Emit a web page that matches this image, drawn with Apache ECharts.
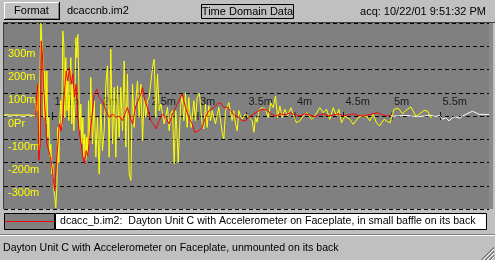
<!DOCTYPE html>
<html>
<head>
<meta charset="utf-8">
<script src="https://cdn.jsdelivr.net/npm/echarts@6/dist/echarts.min.js"></script>
<style>
html,body{margin:0;padding:0;background:#c0c0c0;}
#c{width:495px;height:260px;}
</style>
</head>
<body>
<div id="c"></div>
<script>
// ---- data (time in ms, amplitude in milli-units) ----
const yellowT = [1.000,1.015,1.030,1.045,1.060,1.075,1.090,1.105,1.120,1.135,1.150,1.165,1.180,1.195,1.210,1.225,1.240,1.255,1.270,1.285,1.300,1.315,1.325,
1.332,1.342,1.352,1.363,1.369,1.380,1.390,1.400,1.411,1.421,1.431,1.442,1.452,1.462,1.472,1.483,1.493,1.503,1.514,1.524,1.534,1.545,1.555,1.565,1.576,1.586,1.596,
1.606,1.617,1.627,1.637,1.648,1.658,1.668,1.679,1.689,1.699,1.710,1.720,1.730,1.741,1.751,1.761,1.771,1.782,1.792,1.802,1.813,1.823,1.833,1.844,1.854,1.864,
1.871,1.881,1.895,1.912,1.930,1.947,1.964,1.981,1.998,2.015,2.033,2.050,2.067,2.084,2.101,2.119,2.136,2.153,2.170,2.187,2.204,2.222,2.239,2.256,2.273,2.290,2.308,
2.325,2.342,2.359,2.376,2.393,2.411,2.428,2.445,2.462,2.479,2.497,2.531,2.548,2.565,2.582,2.600,2.617,2.651,2.686,2.703,2.720,2.737,2.754,2.771,
2.778,2.796,2.820,2.837,2.854,2.871,2.888,2.905,2.929,2.957,2.974,2.991,3.015,3.043,3.060,3.077,3.094,3.112,3.129,3.146,3.180,3.215,3.249,3.266,3.284,3.318,3.335,
3.352,3.369,3.387,3.404,3.421,3.438,3.455,3.490,3.524,3.558,3.576,3.593,3.610,3.627,3.661,
3.672,3.696,3.723,3.751,3.775,3.799,3.820,3.844,3.868,3.895,3.923,3.957,3.981,4.015,4.050,4.084,4.119,4.170,4.204,4.256,4.290,4.325,4.359,4.394,4.428,4.452,4.479,
4.514,4.565,4.600,4.651,4.686,4.737,4.771,4.806,4.840,4.871,4.885,4.919,4.954,4.981,5.005,5.022,5.050,5.074,5.108,5.142,5.194,5.246,5.280,5.332,5.366,5.400,5.418];
const yellowV = [4,0,6,2,5,-2,4,1,5,-1,4,2,5,0,4,-2,5,1,4,0,3,1,0,
66,23,137,-149,137,400,394,251,-6,194,-34,194,-91,-6,-177,-120,-249,-206,-320,-349,-395,-300,-49,-200,-6,66,-49,
366,309,-6,251,23,194,-20,94,251,-34,137,-63,37,337,251,351,137,-63,51,-120,-6,-177,-77,-191,-91,-163,
66,-120,166,-120,66,-177,-6,-249,51,-149,-63,137,216,-177,287,-120,123,-177,130,-91,123,-63,237,-134,180,-249,-277,
137,-49,66,151,-6,137,-106,80,-6,66,80,209,244,-6,180,23,51,-34,37,-63,9,23,-206,23,
-20,-199,44,87,-20,100,-49,80,-49,66,-20,80,97,-34,-56,51,-49,44,-20,23,-34,37,-70,-99,23,58,51,
-20,23,-34,-63,23,0,-13,9,-6,-20,-70,-6,-27,23,37,
43,29,-7,57,36,86,-7,43,-7,29,0,36,7,-29,-21,0,14,-14,0,36,14,29,-14,36,0,29,-29,
0,-14,-36,-7,0,0,-21,7,-29,-43,-36,-14,-24,-29,7,29,33,29,10,24,39,0,7,24,21,-7,0];

const redT = [1.325,1.339,1.349,1.359,1.373,1.383,1.394,1.407,1.428,1.441,1.462,1.486,1.503,1.521,1.538,1.555,1.572,1.590,1.606,1.624,1.641,1.658,1.675,1.692,1.709,
1.727,1.744,1.761,1.778,1.796,1.813,1.830,1.847,1.864,1.895,1.930,1.957,1.981,2.015,2.050,2.084,2.119,2.153,2.187,2.222,2.246,2.273,2.301,2.325,2.359,2.383,
2.411,2.428,2.452,2.479,2.514,2.541,2.565,2.600,2.634,2.668,2.703,2.737,2.771,2.785,2.820,2.837,2.871,2.905,2.940,2.967,3.008,3.043,3.077,3.112,3.163,3.198,
3.232,3.266,3.301,3.335,3.387,3.421,3.455,3.490,3.524,3.576,3.627,3.679,3.720,3.750,3.800,3.850,3.900,3.950,4.000,4.050,4.100,4.150,4.200,4.250,4.300,4.350,
4.400,4.450,4.500,4.550,4.600,4.650,4.700,4.750,4.800,4.850,4.900,4.950,4.985];
const redV = [0,94,137,-191,-120,323,280,137,-6,-120,-149,-191,-249,-320,-220,-120,-34,-63,-6,109,194,151,209,137,180,
80,137,-6,-77,-120,-177,-206,-149,-170,-49,94,115,80,66,23,-6,9,-6,0,-20,9,37,-6,-34,44,66,
94,123,66,37,-20,-34,-56,-20,9,-6,-34,9,37,37,80,94,37,-6,-34,-70,-63,-49,-6,23,37,51,
58,37,37,23,0,-6,-20,-20,-6,9,23,30,23,9,0,9,5,14,5,0,9,5,-3,5,9,0,
5,9,0,5,9,3,0,5,9,14,5,0,5];

const whitePreT = [1.000,1.020,1.040,1.060,1.080,1.100,1.120,1.140,1.160,1.180,1.200,1.220,1.240,1.260,1.280,1.300,1.325];
const whitePreV = [2,5,0,4,-1,3,2,5,0,3,-2,4,1,3,0,4,0];
const whitePostT = [4.988,5.057,5.125,5.194,5.263,5.332,5.400,5.452,5.486,5.521,5.555,5.589,5.624,5.658,5.692,5.727,5.761,5.795,5.830,5.864,5.899,5.950,5.985,6.000];
const whitePostV = [0,0,3,0,-3,0,3,-3,3,-14,-7,-21,-7,-3,-10,0,7,14,20,14,7,7,7,7];

const xTickValues = [1.5,2,2.5,3,3.5,4,4.5,5,5.5];
const xTickLabels = ['1.5m','2m','2.5m','3m','3.5m','4m','4.5m','5m','5.5m'];
const yTickValues = [300,200,100,0,-100,-200,-300];
const yTickLabels = ['300m','200m','100m','0Pr','-100m','-200m','-300m'];

const headerFile = 'dcaccnb.im2';
const headerTitle = 'Time Domain Data';
const headerAcq = 'acq: 10/22/01 9:51:32 PM';
const legendText = 'dcacc_b.im2:  Dayton Unit C with Accelerometer on Faceplate, in small baffle on its back';
const statusText = 'Dayton Unit C with Accelerometer on Faceplate, unmounted on its back';

function pairs(t, v){ return t.map((x,i)=>[x, v[i]]); }

const FONT = '"Liberation Sans", Arial, sans-serif';
const chart = echarts.init(document.getElementById('c'), null, {renderer:'canvas'});

function ln(x1,y1,x2,y2,color,z){ return {type:'line', silent:true, z:z||100, shape:{x1,y1,x2,y2}, style:{stroke:color, lineWidth:1}}; }
function tx(text,x,y,align,size,z){ return {type:'text', silent:true, z:z||101, style:{text, x, y, fill:'#000', font:(size||11)+'px '+FONT, textAlign:align||'left', textVerticalAlign:'middle'}}; }

const graphics = [
  // Format button
  {type:'rect', silent:true, z:100, shape:{x:4,y:2,width:55,height:17}, style:{fill:'#c0c0c0'}},
  ln(4,2.5,59,2.5,'#ffffff'), ln(4.5,2,4.5,19,'#ffffff'),
  ln(4,19.5,60,19.5,'#000000'), ln(59.5,2,59.5,20,'#000000'),
  ln(5,18.5,59,18.5,'#808080'), ln(58.5,3,58.5,19,'#808080'),
  tx('Format',31.5,11,'center'),
  tx(headerFile,67,11,'left'),
  {type:'rect', silent:true, z:100, shape:{x:201.5,y:4.5,width:92,height:14}, style:{fill:'#c0c0c0', stroke:'#000', lineWidth:1}},
  tx(headerTitle,247.5,12,'center'),
  tx(headerAcq,486,12,'right'),
  // plot frame
  ln(3,22.5,495,22.5,'#404040'), ln(3.5,22,3.5,209,'#404040'),
  {type:'rect', silent:true, z:1, shape:{x:489,y:23,width:4,height:186}, style:{fill:'#8a8a8a'}},
  // legend
  {type:'rect', silent:true, z:100, shape:{x:4.5,y:213.5,width:50,height:16}, style:{fill:'#808080', stroke:'#000', lineWidth:1}},
  ln(5,221.5,54,221.5,'#ff0000',101),
  {type:'rect', silent:true, z:100, shape:{x:55.5,y:213.5,width:431,height:16}, style:{fill:'#ffffff', stroke:'#000', lineWidth:1}},
  tx(legendText,60,221.5,'left',10.6),
  // status bar
  ln(0,234.5,495,234.5,'#808080'), ln(0,235.5,495,235.5,'#ffffff'),
  tx(statusText,3,248,'left',10.6),
  // resize grip
  ln(494,247,481,260,'#808080'), ln(494,248,482,260,'#808080'), ln(494,249,483,260,'#ffffff'),
  ln(494,251,485,260,'#808080'), ln(494,252,486,260,'#808080'), ln(494,253,487,260,'#ffffff'),
  ln(494,255,489,260,'#808080'), ln(494,256,490,260,'#808080'), ln(494,257,491,260,'#ffffff')
];

const yLabelFmt = v => { const i = yTickValues.indexOf(Math.round(v)); return i >= 0 ? yTickLabels[i] : ''; };

chart.setOption({
  animation:false,
  backgroundColor:'#c0c0c0',
  grid:{left:4, right:6, top:23, bottom:51, show:true, backgroundColor:'#808080', borderWidth:0},
  xAxis:{type:'value', min:1, max:6, interval:0.5,
     axisLine:{show:false}, axisTick:{show:false}, axisLabel:{show:false}, splitLine:{show:false}},
  yAxis:{type:'value', min:-400, max:400, interval:100,
    axisLine:{show:false}, axisTick:{show:false},
    splitLine:{show:true, lineStyle:{color:'#000', width:1, type:[4,3]}},
    axisLabel:{inside:true, margin:4, verticalAlign:'top', padding:[2,0,0,0], color:'#ffff00', fontSize:11, fontFamily:FONT, formatter:yLabelFmt}},
  series:[
    {type:'scatter', data:xTickValues.map((t,i)=>({value:[t,0], name:xTickLabels[i]})), symbol:'rect', symbolSize:[1,8], z:1, silent:true,
     itemStyle:{color:'#000'},
     label:{show:true, position:[2.5,-15.5], align:'left', verticalAlign:'top', color:'#000', fontSize:11, fontFamily:FONT, formatter:p=>p.name}},
    {type:'line', data:pairs(whitePreT, whitePreV), showSymbol:false, symbol:'none', z:2, lineStyle:{color:'#ffffff', width:1}},
    {type:'line', data:pairs(whitePostT, whitePostV), showSymbol:false, symbol:'none', z:2, lineStyle:{color:'#ffffff', width:1}},
    {type:'line', data:pairs(yellowT, yellowV), showSymbol:false, symbol:'none', z:3, lineStyle:{color:'#ffff00', width:1}},
    {type:'line', data:pairs(redT, redV), showSymbol:false, symbol:'none', z:4, lineStyle:{color:'#ff0000', width:1}}
  ],
  graphic:graphics
});
</script>
</body>
</html>
